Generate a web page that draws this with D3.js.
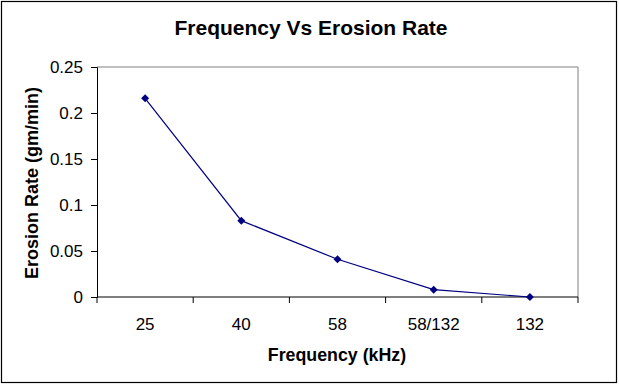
<!DOCTYPE html>
<html><head><meta charset="utf-8">
<script src="https://cdn.jsdelivr.net/npm/d3@7"></script>
<style>body{margin:0;background:#fff}svg{display:block}</style>
</head><body>
<script>
const categories = ["25", "40", "58", "58/132", "132"];
const erosionRate = [0.216, 0.083, 0.041, 0.008, 0.0];
const yTicks = [0, 0.05, 0.1, 0.15, 0.2, 0.25];

const W = 619, H = 385;
const m = {left: 97, right: 578, top: 67, bottom: 297};
const svg = d3.select("body").append("svg").attr("width", W).attr("height", H)
  .style("font-family", "Arial, 'Liberation Sans', sans-serif");

svg.append("rect").attr("x", 1.5).attr("y", 1.5).attr("width", W - 4).attr("height", H - 4)
  .attr("fill", "#fff").attr("stroke", "#000").attr("stroke-width", 1.2);

const x = d3.scaleBand().domain(categories).range([m.left, m.right]);
const y = d3.scaleLinear().domain([0, 0.25]).range([m.bottom, m.top]);

// plot area border (top & right gray)
svg.append("path").attr("d", `M${m.left},${m.top}H${m.right}V${m.bottom}`)
  .attr("fill", "none").attr("stroke", "#808080").attr("stroke-width", 1);

// y axis
const yAx = svg.append("g").attr("transform", `translate(${m.left},0)`)
  .call(d3.axisLeft(y).tickValues(yTicks).tickSize(6).tickPadding(8).tickFormat(d => String(d)));
yAx.select(".domain").attr("stroke", "#000");
yAx.selectAll("text").attr("font-size", 17).attr("fill", "#000").attr("dy", "0.35em");

// x axis with ticks at band boundaries
const xAx = svg.append("g").attr("transform", `translate(0,${m.bottom})`);
xAx.append("line").attr("x1", m.left).attr("x2", m.right).attr("stroke", "#000");
const bounds = categories.map(c => x(c)).concat([x(categories[categories.length-1]) + x.bandwidth()]);
xAx.selectAll("line.t").data(bounds).join("line").attr("class", "t")
  .attr("x1", d => d).attr("x2", d => d).attr("y1", 0).attr("y2", 6).attr("stroke", "#000");
xAx.selectAll("text").data(categories).join("text")
  .attr("x", d => x(d) + x.bandwidth()/2).attr("y", 33).attr("text-anchor", "middle")
  .attr("font-size", 17).attr("fill", "#000").text(d => d);

// line
const line = d3.line().x((d, i) => x(categories[i]) + x.bandwidth()/2).y(d => y(d));
svg.append("path").datum(erosionRate).attr("d", line)
  .attr("fill", "none").attr("stroke", "#000080").attr("stroke-width", 1.2);

svg.selectAll("path.pt").data(erosionRate).join("path").attr("class", "pt")
  .attr("transform", (d, i) => `translate(${x(categories[i]) + x.bandwidth()/2},${y(d)})`)
  .attr("d", "M0,-4L4,0L0,4L-4,0Z").attr("fill", "#000080");

// titles
svg.append("text").attr("x", 311).attr("y", 35).attr("text-anchor", "middle")
  .attr("font-size", 21).attr("font-weight", "bold").text("Frequency Vs Erosion Rate");
svg.append("text").attr("x", 337).attr("y", 361).attr("text-anchor", "middle")
  .attr("font-size", 17.8).attr("font-weight", "bold").text("Frequency (kHz)");
svg.append("text").attr("transform", `translate(38,183) rotate(-90)`).attr("text-anchor", "middle")
  .attr("font-size", 18).attr("font-weight", "bold").text("Erosion Rate (gm/min)");
</script>
</body></html>
